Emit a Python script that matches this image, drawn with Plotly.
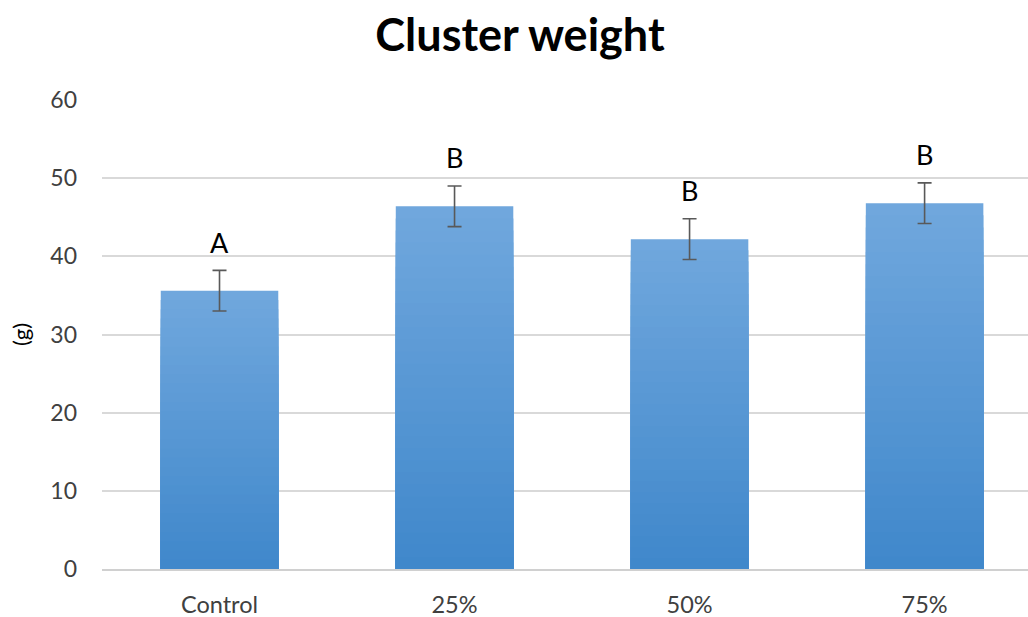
import plotly.graph_objects as go

categories = ["Control", "25%", "50%", "75%"]
weights = [35.6, 46.4, 42.2, 46.8]
errors = [2.6, 2.6, 2.6, 2.6]
letters = ["A", "B", "B", "B"]
y_ticks = [0, 10, 20, 30, 40, 50, 60]

FONT = "Lato"
top_rgb = (112, 167, 221)
bot_rgb = (64, 136, 203)

fig = go.Figure()

# gradient bars: overlaid bars of decreasing height, darkening towards the base
steps = 30
for i in range(steps):
    f = 1 - i / steps
    t = i / (steps - 1)
    c = tuple(round(top_rgb[k] + (bot_rgb[k] - top_rgb[k]) * t) for k in range(3))
    fig.add_trace(go.Bar(
        x=categories, y=[w * f for w in weights], width=0.5,
        marker=dict(color="rgb(%d,%d,%d)" % c, line=dict(width=0)),
        hoverinfo="skip", showlegend=False,
    ))

fig.add_trace(go.Scatter(
    x=categories, y=weights, mode="markers",
    marker=dict(size=1, opacity=0),
    error_y=dict(type="data", array=errors, visible=True, color="#595959", thickness=1.6, width=7),
    showlegend=False,
))

for c, w, e, l in zip(categories, weights, errors, letters):
    fig.add_annotation(x=c, y=w + e, text=l, showarrow=False, yanchor="middle", yshift=28,
                       font=dict(family=FONT, size=27, color="#000000"))

fig.add_annotation(xref="paper", yref="paper", x=-0.088, y=0.5, text="(g)", textangle=-90,
                   showarrow=False, xanchor="center", yanchor="middle",
                   font=dict(family=FONT, size=22, color="#000000"))

fig.update_layout(
    width=1028, height=617,
    barmode="overlay",
    paper_bgcolor="white", plot_bgcolor="white",
    margin=dict(l=102, r=0, t=100, b=48),
    title=dict(text="<b>Cluster weight</b>", x=520 / 1028, xanchor="center", y=1 - 35 / 617, yanchor="middle",
               font=dict(family=FONT, size=45, color="#000000")),
    font=dict(family=FONT, color="#404040"),
    xaxis=dict(range=[-0.5, 3.44], showgrid=False, showline=True, linecolor="#d0d0d0", linewidth=1.5,
               ticks="", tickfont=dict(size=23.5, color="#404040"), ticklabelstandoff=14, automargin=False,
               fixedrange=True),
    yaxis=dict(range=[0, 60], tickvals=y_ticks, showgrid=True, gridcolor="#d9d9d9", gridwidth=1.5,
               zeroline=False, showline=False, ticks="", tickfont=dict(size=23, color="#404040"),
               ticklabelstandoff=24, automargin=False, fixedrange=True),
)

fig.write_html("out.html", config={"displayModeBar": False},
               post_script="document.body.style.margin='0';document.body.style.overflow='hidden';")
